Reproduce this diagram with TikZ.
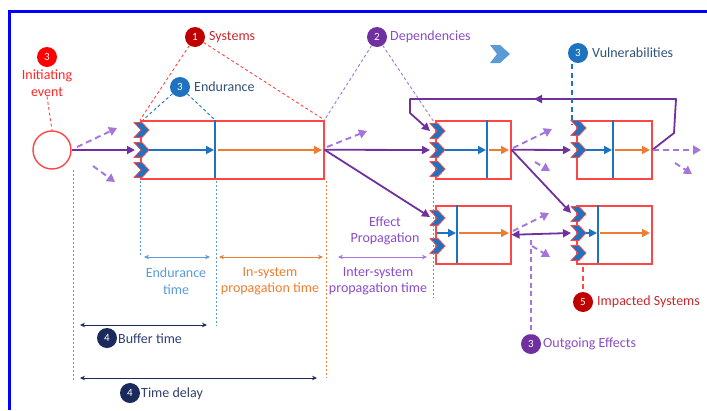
\documentclass[tikz,border=0pt]{standalone}
\usepackage{fontspec}
\setmainfont{Carlito}
\usetikzlibrary{arrows.meta}

\definecolor{boxred}{HTML}{FF4646}
\definecolor{sysblue}{HTML}{1F72C0}
\definecolor{lightblue}{HTML}{5B9BD5}
\definecolor{sysorange}{HTML}{ED7D31}
\definecolor{deppurple}{HTML}{7030A0}
\definecolor{textpurple}{HTML}{8A4CC8}
\definecolor{lightpurple}{HTML}{A574DC}
\definecolor{navy}{HTML}{1B2A5C}
\definecolor{navytext}{HTML}{2F3F6F}
\definecolor{darkred}{HTML}{C00000}
\definecolor{redtext}{HTML}{C8282D}
\definecolor{slateblue}{HTML}{2F5277}
\definecolor{frameblue}{HTML}{0000FF}

\tikzset{
  sysbox/.style={draw=boxred, line width=1.5pt, inner sep=0pt, anchor=north west},
  divider/.style={sysblue, line width=1.1pt},
  badge/.style={circle, fill=#1, text=white, minimum size=20pt, inner sep=0pt,
    font=\fontsize{11}{11}\selectfont},
  lbl/.style={anchor=west, inner sep=0pt, font=\fontsize{14}{16}\selectfont},
  clbl/.style={align=center, inner sep=0pt, font=\fontsize{14}{16.5}\selectfont},
  flow/.style={deppurple, line width=1.8pt, line join=round,
    -{Triangle[length=8pt,width=8pt]}},
  flowback/.style={deppurple, line width=1.8pt,
    {Triangle[length=8pt,width=8pt]}-{Triangle[length=8pt,width=8pt]}},
  effect/.style={lightpurple, line width=1.9pt, dash pattern=on 6pt off 4pt,
    -{Triangle[length=8pt,width=9pt]}},
  bluearrow/.style={sysblue, line width=1.7pt, -{Triangle[length=8pt,width=8pt]}},
  orangearrow/.style={sysorange, line width=1.7pt, -{Triangle[length=8pt,width=8pt]}},
  leader/.style={line width=0.9pt, dash pattern=on 3pt off 2.5pt},
  marker/.style={line width=1.4pt, dash pattern=on 5pt off 3.5pt},
  guide/.style={line width=0.9pt, dash pattern=on 1.5pt off 2.5pt},
  span/.style={line width=0.9pt, {Stealth[length=5pt,width=4.5pt]}-{Stealth[length=5pt,width=4.5pt]}},
  chev/.pic={\fill[sysblue, draw=boxred, line width=0.7pt]
    (-7,-7.5) -- (1,-7.5) -- (8,0) -- (1,7.5) -- (-7,7.5) -- (0,0) -- cycle;}
}

\begin{document}
\begin{tikzpicture}[x=1pt, y=-1pt]
\useasboundingbox (0,0) rectangle (707,410);

% frame
\draw[frameblue, line width=3pt] (9.5,410) -- (9.5,11.5) -- (707,11.5);

% initiating event
\node[circle, draw=boxred, line width=1.4pt, minimum size=38pt, inner sep=0pt] (ie) at (52,150) {};

% systems
\node[sysbox, minimum width=183pt, minimum height=58pt] (s1) at (140,120) {};
\node[sysbox, minimum width=75pt, minimum height=58pt] (s2) at (435,120) {};
\node[sysbox, minimum width=75pt, minimum height=58pt] (s3) at (435,205) {};
\node[sysbox, minimum width=75pt, minimum height=58pt] (s4) at (576,120) {};
\node[sysbox, minimum width=75pt, minimum height=58pt] (s5) at (576,205) {};

% endurance / propagation split inside each system
\draw[divider] (215,120) -- (215,178);
\draw[divider] (487,120) -- (487,178);
\draw[divider] (457,205) -- (457,263);
\draw[divider] (613,120) -- (613,178);
\draw[divider] (598,205) -- (598,263);

% internal propagation
\draw[bluearrow] (148,150) -- (214,150);
\draw[orangearrow] (218,150) -- (322,150);
\draw[bluearrow] (445,150) -- (486,150);
\draw[orangearrow] (489,150) -- (509,150);
\draw[bluearrow] (437,233) -- (456,233);
\draw[orangearrow] (459,233) -- (509,233);
\draw[bluearrow] (585,150) -- (612,150);
\draw[orangearrow] (615,150) -- (650,150);
\draw[bluearrow] (583,233) -- (597,233);
\draw[orangearrow] (600,233) -- (650,233);

% vulnerabilities (entry points)
\foreach \y in {130,150,170} \pic at (141,\y) {chev};
\foreach \y in {131,150,169} \pic at (437,\y) {chev};
\foreach \y in {218,246} \pic at (437,\y) {chev};
\foreach \y in {128,150} \pic at (578,\y) {chev};
\foreach \y in {214,233,253} \pic at (578,\y) {chev};
\fill[lightblue] (490,45) -- (500,45) -- (510,54) -- (500,63) -- (490,63) -- (497,54) -- cycle;

% entry coordinates
\coordinate (s1in) at (135,150);
\coordinate (s2top) at (430,131);
\coordinate (s2in) at (430,150);
\coordinate (s3in) at (430,217);
\coordinate (s4in) at (571,150);
\coordinate (s5top) at (571,213);
\coordinate (s5in) at (571,233);

% dependencies
\draw[flow] (ie.east) -- (s1in);
\draw[flow] (s1.east) -- (s2in);
\draw[flow] (s1.east) -- (s3in);
\draw[flow] (s2.east) -- (s4in);
\draw[flow] (s2.east) -- (s5top);
\draw[flowback] (s3.east) -- (s5in);
\draw[flow] (s4.east) -- (674,133) -- (676,99) -- (410,99) -- (410,113) -- (s2top);
\draw[flow] (560,99) -- (534,99);

% outgoing effects
\draw[effect] (77,147) -- (117,128);
\draw[effect] (93,166) -- (115,182);
\draw[effect] (327,147) -- (367,131);
\draw[effect] (513,148) -- (552,129);
\draw[effect] (535,162) -- (550,171);
\draw[effect] (513,231) -- (549,213);
\draw[effect] (532,246) -- (550,257);
\draw[effect] (653,150) -- (701,150);
\draw[effect] (675,163) -- (692,174);

% annotations
\node[badge=red] (b3i) at (47,57) {3};
\node[clbl, text=red!85!white] (tie) at (47,83) {Initiating\\event};
\draw[leader, boxred] (tie.south) -- (ie.north);

\node[badge=darkred] (b1) at (195,37) {1};
\node[lbl, text=redtext] (t1) at (209,37) {Systems};
\draw[leader, boxred] (b1) -- (s1.north west);
\draw[leader, boxred] (b1) -- (s1.north east);

\node[badge=sysblue] (b3e) at (180,87) {3};
\node[lbl, text=slateblue] (t3e) at (194,87) {Endurance};
\draw[leader, sysblue] (b3e) -- (143,120);
\draw[leader, sysblue] (b3e) -- (215,120);

\node[badge=deppurple] (b2) at (377,37) {2};
\node[lbl, text=textpurple] (t2) at (390,37) {Dependencies};
\draw[leader, lightpurple] (b2) -- (s1.north east);
\draw[leader, lightpurple] (b2) -- (434,122);

\node[badge=sysblue] (b3v) at (578,53) {3};
\node[lbl, text=slateblue] (t3v) at (592,53) {Vulnerabilities};
\draw[marker, sysblue] (572,64) -- (572,124);

\node[badge=deppurple] (b3o) at (531,344) {3};
\node[lbl, text=textpurple] (t3o) at (543,344) {Outgoing Effects};
\draw[marker, lightpurple, line width=1.9pt] (531,240) -- (b3o.north);

\node[badge=darkred] (b5) at (583,302) {5};
\node[lbl, text=redtext] (t5) at (597,302) {Impacted Systems};
\draw[marker, boxred] (583,267) -- (b5.north);

\node[clbl, text=textpurple] (tep) at (385,231) {Effect\\Propagation};

% time guides
\draw[guide, lightpurple] (73,170) -- (73,380);
\draw[guide, lightblue] (140,181) -- (140,255);
\draw[guide, lightblue] (216,181) -- (216,326);
\draw[guide, sysorange] (326,181) -- (326,378);
\draw[guide, lightpurple] (433,181) -- (433,298);

% time spans
\draw[span, lightblue] (144,257) -- (210,257);
\node[clbl, text=lightblue] (tet) at (176,281) {Endurance\\time};
\draw[span, sysorange] (219,257) -- (323,257);
\node[clbl, text=sysorange] (tip) at (270,281) {In-system\\propagation time};
\draw[span, lightpurple] (338,257) -- (427,257);
\node[clbl, text=textpurple] (txp) at (378,281) {Inter-system\\propagation time};

\draw[span, navy] (80,325) -- (207,325);
\node[badge=navy] (b4b) at (107,338) {4};
\node[lbl, text=navytext] (t4b) at (118,339) {Buffer time};

\draw[span, navy] (80,378) -- (317,378);
\node[badge=navy] (b4d) at (130,393) {4};
\node[lbl, text=navytext] (t4d) at (141,394) {Time delay};
\end{tikzpicture}
\end{document}
